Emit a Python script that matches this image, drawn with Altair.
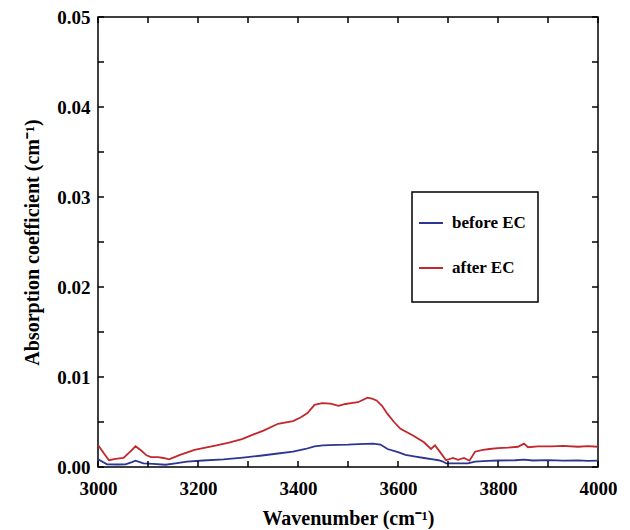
import altair as alt
import pandas as pd

# ---- data ----
wn_before = [3000, 3002, 3018, 3040, 3055, 3068, 3075, 3091, 3110, 3135, 3155, 3178, 3210, 3251,
             3290, 3324, 3360, 3390, 3415, 3433, 3450, 3477, 3500, 3521, 3550, 3565, 3579,
             3600, 3615, 3635, 3652, 3670, 3681, 3690, 3696, 3720, 3740, 3754, 3780, 3800,
             3834, 3852, 3870, 3900, 3930, 3960, 3980, 4000]
abs_before = [0.00090, 0.00080, 0.00030, 0.00028, 0.00030, 0.00055, 0.00070, 0.00040, 0.00035,
              0.00025, 0.00040, 0.00060, 0.00072, 0.00085, 0.00105, 0.00125, 0.00150, 0.00170,
              0.00200, 0.00230, 0.00240, 0.00245, 0.00248, 0.00255, 0.00260, 0.00250, 0.00200,
              0.00165, 0.00135, 0.00115, 0.00100, 0.00085, 0.00075, 0.00060, 0.00040, 0.00040,
              0.00040, 0.00060, 0.00068, 0.00072, 0.00075, 0.00082, 0.00072, 0.00076, 0.00070,
              0.00074, 0.00068, 0.00070]

wn_after = [3000, 3002, 3012, 3022, 3035, 3051, 3066, 3075, 3087, 3097, 3106, 3120, 3131, 3142,
            3164, 3193, 3215, 3237, 3262, 3288, 3310, 3331, 3360, 3390, 3405, 3419, 3433, 3448,
            3465, 3481, 3495, 3506, 3520, 3539, 3548, 3557, 3568, 3579, 3592, 3605, 3630, 3652,
            3666, 3674, 3685, 3696, 3710, 3720, 3732, 3743, 3754, 3770, 3783, 3800, 3820, 3840,
            3852, 3860, 3880, 3907, 3930, 3960, 3980, 4000]
abs_after = [0.00240, 0.00230, 0.00150, 0.00075, 0.00090, 0.00100, 0.00180, 0.00230, 0.00180,
             0.00130, 0.00110, 0.00110, 0.00100, 0.00085, 0.00135, 0.00190, 0.00215, 0.00240,
             0.00270, 0.00310, 0.00360, 0.00405, 0.00480, 0.00510, 0.00550, 0.00600, 0.00690,
             0.00710, 0.00705, 0.00680, 0.00700, 0.00710, 0.00720, 0.00770, 0.00760, 0.00740,
             0.00680, 0.00590, 0.00500, 0.00425, 0.00350, 0.00275, 0.00200, 0.00240, 0.00160,
             0.00075, 0.00100, 0.00080, 0.00100, 0.00070, 0.00170, 0.00190, 0.00200, 0.00210,
             0.00215, 0.00225, 0.00260, 0.00220, 0.00230, 0.00230, 0.00235, 0.00225, 0.00232,
             0.00225]

series_names = ["before EC", "after EC"]
series_colors = ["#2d3593", "#c1272d"]

x_ticks = [3000, 3100, 3200, 3300, 3400, 3500, 3600, 3700, 3800, 3900, 4000]
x_labels = [3000, 3200, 3400, 3600, 3800, 4000]
y_ticks = [0.0, 0.005, 0.01, 0.015, 0.02, 0.025, 0.03, 0.035, 0.04, 0.045, 0.05]
y_labels = [0.0, 0.01, 0.02, 0.03, 0.04, 0.05]

df = pd.concat([
    pd.DataFrame({"wn": wn_before, "a": abs_before, "s": series_names[0]}),
    pd.DataFrame({"wn": wn_after, "a": abs_after, "s": series_names[1]}),
])
xt = pd.DataFrame({"wn": x_ticks})
yt = pd.DataFrame({"a": y_ticks})

W, H = 500, 450
FONT = "Liberation Serif"

xscale = alt.Scale(domain=[3000, 4000], nice=False, zero=False)
yscale = alt.Scale(domain=[0, 0.05], nice=False)
xaxis = alt.Axis(title="Wavenumber (cm⁻¹)", values=x_labels, format="d", labelFlush=False,
                 tickSize=0, labelPadding=12, titlePadding=10, domain=False, grid=False)
yaxis = alt.Axis(title="Absorption coefficient (cm⁻¹)", values=y_labels, format=".2f",
                 labelFlush=False, tickSize=0, labelPadding=8, titlePadding=14,
                 domain=False, grid=False)
X = alt.X("wn:Q", scale=xscale, axis=xaxis)
Y = alt.Y("a:Q", scale=yscale, axis=yaxis)

lines = alt.Chart(df).mark_line(strokeWidth=1.8).encode(
    x=X, y=Y,
    color=alt.Color("s:N", scale=alt.Scale(domain=series_names, range=series_colors),
                    legend=alt.Legend(title=None, orient="none", legendX=320, legendY=193,
                                      symbolType="stroke", symbolSize=576, symbolStrokeWidth=2,
                                      labelFont=FONT, labelFontWeight="bold", labelFontSize=17,
                                      labelColor="black", rowPadding=24, labelOffset=8,
                                      padding=0)),
)

tick_len = 6
bx = alt.Chart(xt).mark_rule(color="black", strokeWidth=1.5).encode(
    x=X, y=alt.value(H), y2=alt.value(H - tick_len))
tx = alt.Chart(xt).mark_rule(color="black", strokeWidth=1.5).encode(
    x=X, y=alt.value(0), y2=alt.value(tick_len))
ly = alt.Chart(yt).mark_rule(color="black", strokeWidth=1.5).encode(
    y=Y, x=alt.value(0), x2=alt.value(tick_len))
ry = alt.Chart(yt).mark_rule(color="black", strokeWidth=1.5).encode(
    y=Y, x=alt.value(W), x2=alt.value(W - tick_len))

box = alt.Chart(pd.DataFrame({"k": [0]})).mark_rect(
    fill="white", fillOpacity=0, stroke="black", strokeWidth=1.5).encode(
    x=alt.value(314), x2=alt.value(440), y=alt.value(175), y2=alt.value(285))

chart = alt.layer(lines, bx, tx, ly, ry, box).properties(
    width=W, height=H,
    autosize=alt.AutoSizeParams(type="none"),
    padding={"left": 90, "top": 9, "right": 24, "bottom": 62},
).configure_view(
    stroke="black", strokeWidth=1.5
).configure_axis(
    labelFont=FONT, labelFontWeight="bold", labelFontSize=19, labelColor="black",
    titleFont=FONT, titleFontWeight="bold", titleFontSize=20, titleColor="black",
)

chart.save("out.html", embed_options={"renderer": "svg", "actions": False})
